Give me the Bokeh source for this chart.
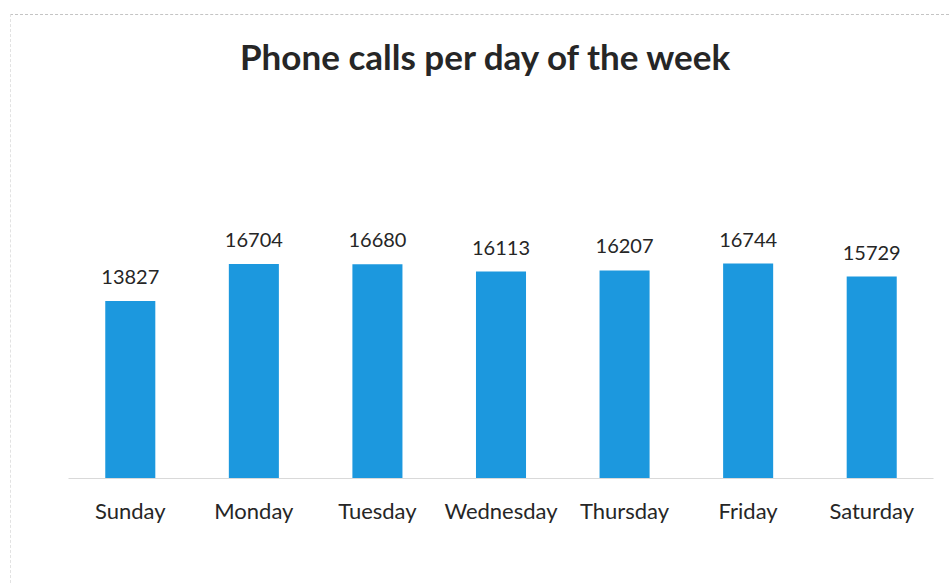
from bokeh.plotting import figure
from bokeh.models import ColumnDataSource, Range1d, InlineStyleSheet
from bokeh.core.properties import value
from bokeh.embed import file_html
from bokeh.resources import INLINE

# Data
days = ["Sunday", "Monday", "Tuesday", "Wednesday", "Thursday", "Friday", "Saturday"]
calls = [13827, 16704, 16680, 16113, 16207, 16744, 15729]
title_text = "Phone calls per day of the week"

BAR_COLOR = "#1c98de"
TEXT_COLOR = "#262626"
FONT = "Lato"

source = ColumnDataSource(data=dict(day=days, calls=calls, label=[str(c) for c in calls]))

p = figure(
    width=949, height=583,
    x_range=days,
    y_range=Range1d(0, 37230),
    output_backend="svg",
    toolbar_location=None,
    min_border_left=68, min_border_right=16,
    min_border_top=0, min_border_bottom=105,
)
p.outline_line_color = None
p.background_fill_color = "white"
p.border_fill_color = "white"
p.xgrid.visible = False
p.ygrid.visible = False
p.yaxis.visible = False

# faint chart-area border (top and left edges)
p.stylesheets = [InlineStyleSheet(css=(
    ":host::after { content: ''; position: absolute; left: 10px; top: 14px; "
    "right: 0px; bottom: 0px; border-top: 1px dashed #c4c4c4; "
    "border-left: 1px dashed #e2e2e2; pointer-events: none; }"
))]

p.vbar(x="day", top="calls", width=0.405, source=source,
       fill_color=BAR_COLOR, line_color=None)

# value labels above bars
p.text(x="day", y="calls", text="label", source=source,
       text_align="center", text_baseline="alphabetic", y_offset=-24,
       text_font=value(FONT), text_font_size="20px", text_color=TEXT_COLOR)

# chart title drawn inside the top area of the frame
p.text(x=[3.383], y=[32870], text=[title_text],
       text_align="center", text_baseline="alphabetic",
       text_font=value(FONT), text_font_style="bold",
       text_font_size="35px", text_color=TEXT_COLOR)

ax = p.xaxis[0]
ax.axis_line_color = "#d9d9d9"
ax.axis_line_width = 1
ax.major_tick_line_color = None
ax.minor_tick_line_color = None
ax.major_label_standoff = 12
ax.major_label_text_font = FONT
ax.major_label_text_font_size = "22px"
ax.major_label_text_color = TEXT_COLOR

open("out.html", "w").write(file_html(p, INLINE))
